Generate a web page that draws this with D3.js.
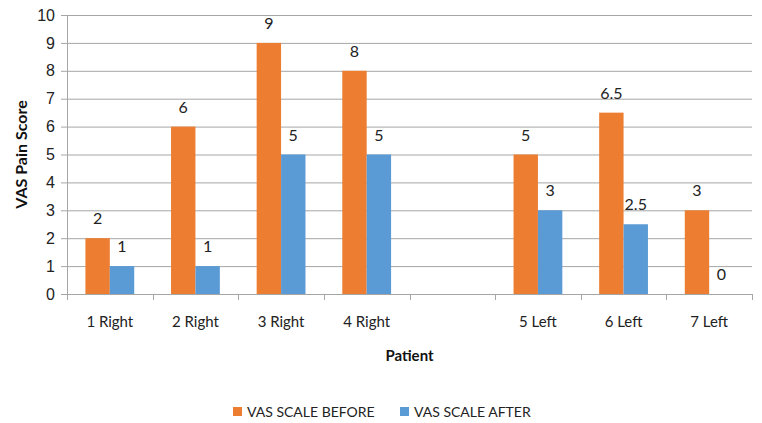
<!DOCTYPE html>
<html>
<head>
<meta charset="utf-8">
<script src="https://cdn.jsdelivr.net/npm/d3@7"></script>
<style>
  html, body { margin: 0; padding: 0; background: #fff; }
  svg { display: block; font-family: Lato, "Open Sans", sans-serif; }
</style>
</head>
<body>
<svg id="chart" width="762" height="423"></svg>
<script>
// Patients (one empty slot separates right and left sides)
const categories = ["1 Right", "2 Right", "3 Right", "4 Right", "", "5 Left", "6 Left", "7 Left"];
const vasBefore = [2, 6, 9, 8, null, 5, 6.5, 3];
const vasAfter  = [1, 1, 5, 5, null, 3, 2.5, 0];
const seriesNames = ["VAS SCALE BEFORE", "VAS SCALE AFTER"];
const seriesColors = ["#ED7D31", "#5B9BD5"];
const yTicks = [0, 1, 2, 3, 4, 5, 6, 7, 8, 9, 10];

const svg = d3.select("#chart");
const margin = { left: 67, right: 10, top: 15, bottom: 129 };
const W = 762, H = 423;
const plotW = W - margin.left - margin.right;
const plotH = H - margin.top - margin.bottom;

const g = svg.append("g").attr("transform", `translate(${margin.left},${margin.top})`);

const x = d3.scaleBand().domain(d3.range(categories.length)).range([0, plotW]).paddingInner(0).paddingOuter(0);
const y = d3.scaleLinear().domain([0, 10]).range([plotH, 0]);
const bw = x.bandwidth();
const groupW = bw * 0.57;
const x1 = d3.scaleBand().domain([0, 1]).range([(bw - groupW) / 2, (bw + groupW) / 2]);

const gridColor = "#a6a6a6";

// Horizontal gridlines with short ticks on the left
g.append("g")
  .call(d3.axisLeft(y).tickValues(yTicks).tickSize(-plotW - 6).tickSizeOuter(0).tickPadding(8))
  .call(a => a.selectAll(".tick line").attr("stroke", gridColor).attr("transform", "translate(-6,0)"))
  .call(a => a.select(".domain").remove())
  .call(a => a.selectAll(".tick text").attr("font-size", 16).attr("fill", "#222").attr("dx", -4));

// Vertical value axis line
g.append("line")
  .attr("x1", 0.5).attr("x2", 0.5).attr("y1", 0).attr("y2", plotH)
  .attr("stroke", gridColor);

// Category axis
const xb = d3.scaleLinear().domain([0, categories.length]).range([0, plotW]);
const xAxis = g.append("g").attr("transform", `translate(0,${plotH})`);
xAxis.append("line").attr("x1", 0).attr("x2", plotW).attr("y1", 0.5).attr("y2", 0.5).attr("stroke", gridColor);
xAxis.selectAll("line.tk").data(d3.range(categories.length + 1)).join("line")
  .attr("class", "tk")
  .attr("x1", d => Math.round(xb(d)) + 0.5).attr("x2", d => Math.round(xb(d)) + 0.5)
  .attr("y1", 0).attr("y2", 6).attr("stroke", gridColor);
xAxis.selectAll("text").data(categories).join("text")
  .attr("x", (d, i) => x(i) + bw / 2)
  .attr("y", 33)
  .attr("text-anchor", "middle")
  .attr("font-size", 15)
  .attr("fill", "#222")
  .text(d => d);

// Bars and value labels
const series = [vasBefore, vasAfter];
series.forEach((vals, s) => {
  const data = vals.map((v, i) => ({ v, i })).filter(d => d.v !== null);
  g.append("g").selectAll("rect").data(data).join("rect")
    .attr("x", d => x(d.i) + x1(s))
    .attr("y", d => y(d.v))
    .attr("width", x1.bandwidth())
    .attr("height", d => plotH - y(d.v))
    .attr("fill", seriesColors[s]);
  g.append("g").selectAll("text").data(data).join("text")
    .attr("x", d => x(d.i) + x1(s) + x1.bandwidth() / 2)
    .attr("y", d => y(d.v) - 14)
    .attr("text-anchor", "middle")
    .attr("font-size", 16)
    .attr("fill", "#222")
    .text(d => d.v);
});

// Axis titles
svg.append("text")
  .attr("x", margin.left + plotW / 2).attr("y", 361)
  .attr("text-anchor", "middle").attr("font-size", 15).attr("font-weight", "bold").attr("fill", "#111")
  .text("Patient");
svg.append("text")
  .attr("transform", `translate(27,${margin.top + plotH / 2}) rotate(-90)`)
  .attr("text-anchor", "middle").attr("font-size", 16).attr("font-weight", "bold").attr("fill", "#111")
  .text("VAS Pain Score");

// Legend
const legendX = [233, 400];
const legend = svg.append("g");
seriesNames.forEach((name, s) => {
  legend.append("rect").attr("x", legendX[s]).attr("y", 407).attr("width", 9).attr("height", 9).attr("fill", seriesColors[s]);
  legend.append("text").attr("x", legendX[s] + 14).attr("y", 417)
    .attr("font-size", 14).attr("fill", "#222").text(name);
});
</script>
</body>
</html>
